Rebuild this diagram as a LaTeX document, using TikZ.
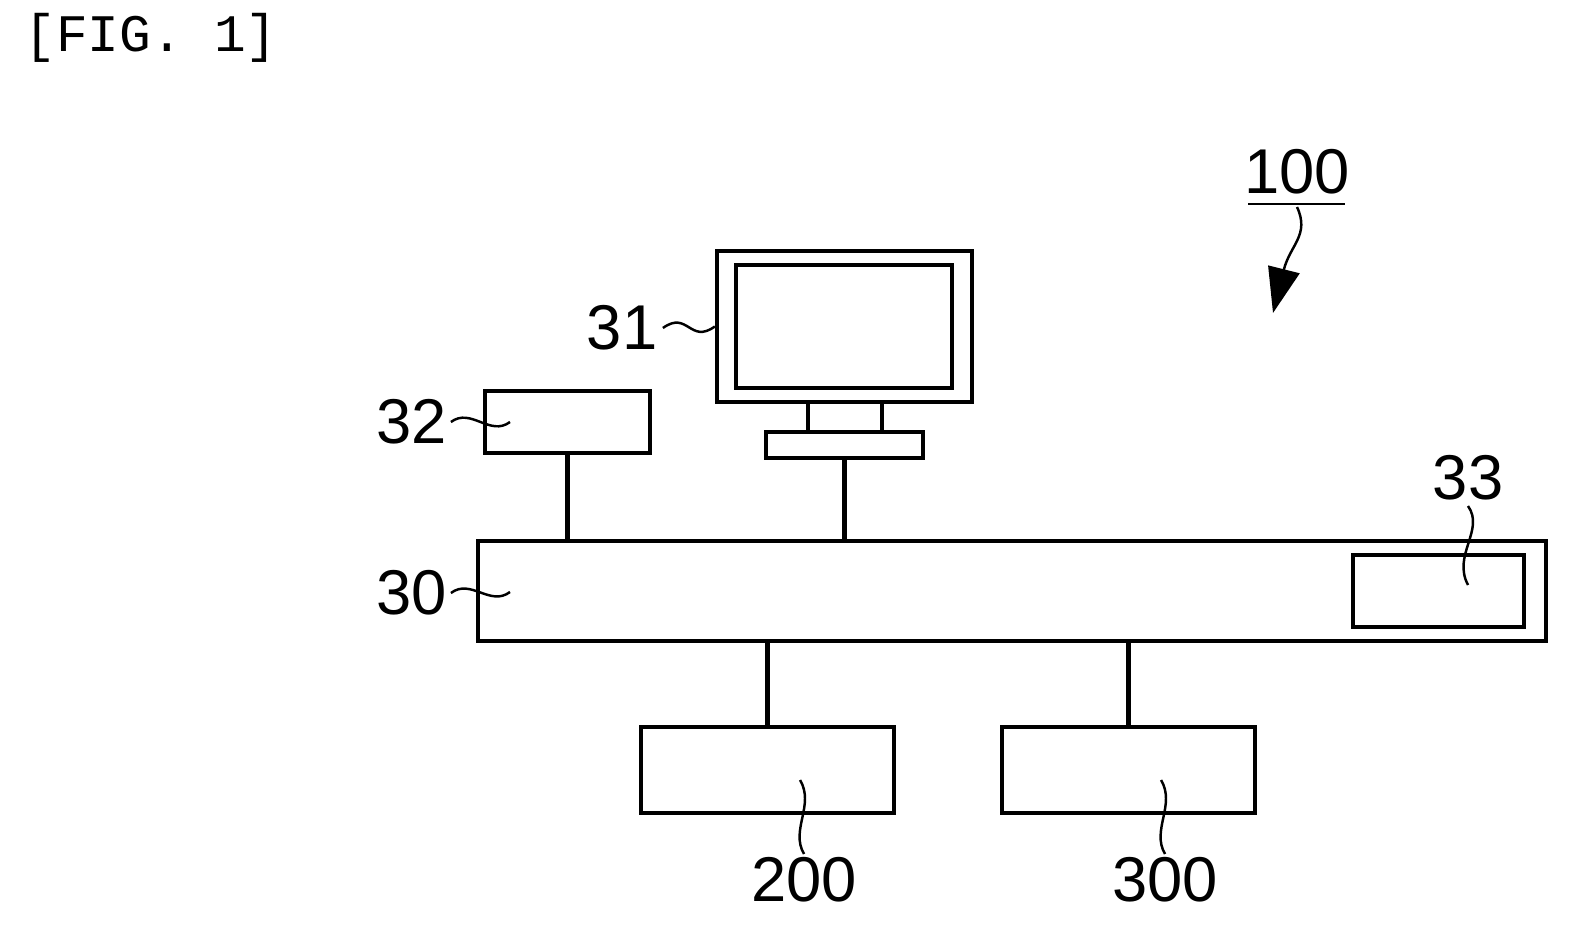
\documentclass[tikz,border=0pt]{standalone}
\usepackage{fontspec}
\setmainfont{Liberation Sans}
\setmonofont{Liberation Mono}
\usetikzlibrary{arrows.meta}
\tikzset{
  unit/.style={draw, line width=1.2pt, inner sep=0pt},
  wire/.style={line width=1.2pt},
  lead/.style={line width=0.7pt},
  refnum/.style={font=\fontsize{18}{18}\selectfont, inner sep=0pt}
}
\begin{document}
\begin{tikzpicture}[x=0.01cm, y=-0.01cm]
    \useasboundingbox (0,0) rectangle (1594,937);
    % Caption
    \node[anchor=west, font=\ttfamily\fontsize{15}{15}\selectfont] (fig) at (12,38) {[FIG. 1]};

    % System reference
    \node[refnum] (n100) at (1297,172) {100};
    \draw[lead] (1248,204) -- (1345,204);
    \coordinate (tip100) at (1273,313);
    \draw[lead, -{Triangle[length=0.45cm,width=0.32cm]}] (1297,207) .. controls (1310,235) and (1290,245) .. (tip100);

    % Monitor
    \node[unit, minimum width=2.55cm, minimum height=1.51cm] (monitor) at (844.5,326.5) {};
    \node[unit, minimum width=2.16cm, minimum height=1.23cm] (screen) at (844,326.5) {};
    \node[unit, minimum width=1.57cm, minimum height=0.26cm] (base) at (844.5,445) {};
    \draw[wire] (808,402) -- (808,432);
    \draw[wire] (882,402) -- (882,432);

    % Input box
    \node[unit, minimum width=1.65cm, minimum height=0.62cm] (input) at (567.5,422) {};

    % Bus
    \node[unit, minimum width=10.68cm, minimum height=1.00cm] (bus) at (1012,591) {};
    \node[unit, minimum width=1.71cm, minimum height=0.72cm] (store) at (1438.5,591) {};

    % Lower units
    \node[unit, minimum width=2.53cm, minimum height=0.86cm] (dev200) at (767.5,770) {};
    \node[unit, minimum width=2.53cm, minimum height=0.86cm] (dev300) at (1128.5,770) {};

    % Connections
    \draw[wire] (input.south) -- (input.south |- bus.north);
    \draw[wire] (base.south) -- (base.south |- bus.north);
    \draw[wire] (bus.south -| dev200.north) -- (dev200.north);
    \draw[wire] (bus.south -| dev300.north) -- (dev300.north);

    % Reference numerals
    \node[refnum] (n31) at (622,328) {31};
    \draw[lead] (n31.east) ++(5,0) .. controls +(25,-18) and +(-25,18) .. (monitor.west);
    \node[refnum] (n32) at (412,422) {32};
    \draw[lead] (n32.east) ++(3,0) .. controls +(20,-15) and +(-20,15) .. (510,422);
    \node[refnum] (n30) at (412,593) {30};
    \draw[lead] (n30.east) ++(3,0) .. controls +(20,-15) and +(-20,15) .. (510,592);
    \node[refnum] (n33) at (1468,478) {33};
    \draw[lead] (1468,506) .. controls (1485,530) and (1452,555) .. (1468,585);
    \node[refnum] (n200) at (804,880) {200};
    \draw[lead] (804,854) .. controls (790,830) and (815,805) .. (800,780);
    \node[refnum] (n300) at (1165,880) {300};
    \draw[lead] (1165,854) .. controls (1151,830) and (1176,805) .. (1161,780);
\end{tikzpicture}
\end{document}
